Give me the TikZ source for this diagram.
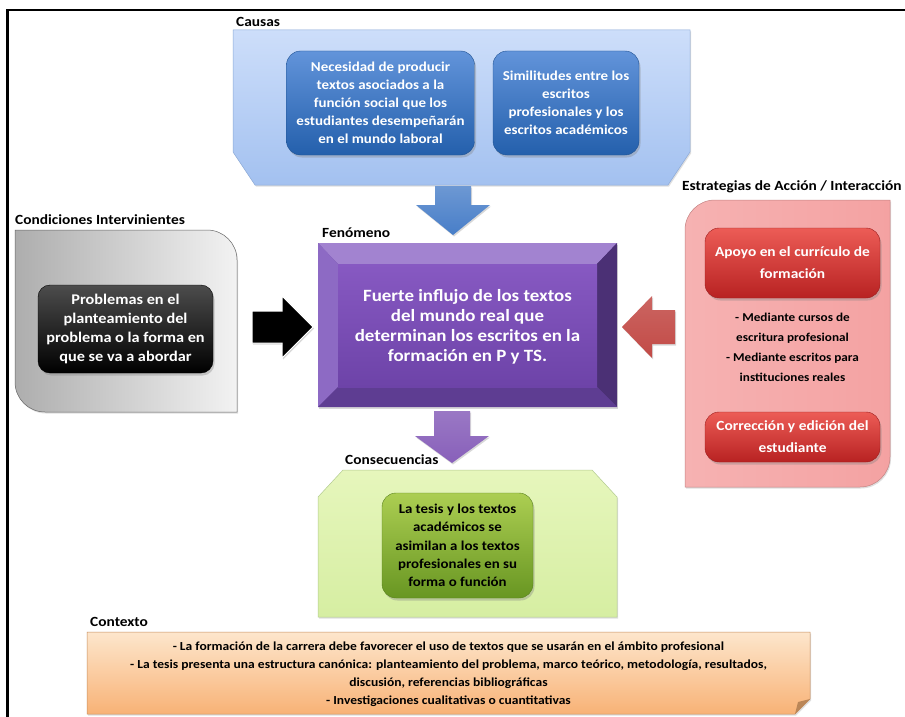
\documentclass[tikz,border=0pt]{standalone}
\usepackage{fontspec}
\setmainfont{Carlito}[FakeStretch=1.1]
\usetikzlibrary{shadows}
\definecolor{bluetop}{RGB}{98,148,218}
\definecolor{bluebot}{RGB}{36,96,172}
\definecolor{cauTop}{RGB}{205,222,250}
\definecolor{cauBot}{RGB}{163,193,240}
\definecolor{cauEdge}{RGB}{140,170,215}
\definecolor{redtop}{RGB}{236,92,86}
\definecolor{redbot}{RGB}{184,34,34}
\definecolor{pinkL}{RGB}{246,178,178}
\definecolor{pinkM}{RGB}{252,218,218}
\definecolor{pinkR}{RGB}{244,162,162}
\definecolor{greentop}{RGB}{172,206,82}
\definecolor{greenbot}{RGB}{104,150,34}
\definecolor{lgreen}{RGB}{230,246,188}
\definecolor{lgreen2}{RGB}{214,238,162}
\definecolor{orTop}{RGB}{253,230,204}
\definecolor{orBot}{RGB}{248,178,118}
\definecolor{purLight}{RGB}{162,131,208}
\definecolor{purLeft}{RGB}{141,106,196}
\definecolor{purRight}{RGB}{75,48,117}
\definecolor{purBot}{RGB}{94,61,146}
\definecolor{purTop}{RGB}{135,89,194}
\definecolor{purFaceBot}{RGB}{109,67,168}
\definecolor{arrBlue}{RGB}{72,126,200}
\definecolor{arrPur}{RGB}{136,96,186}
\definecolor{arrRed}{RGB}{194,74,70}
\begin{document}
\begin{tikzpicture}[x=1pt,y=-1pt,
  lbl/.style={anchor=west,inner sep=0pt,font=\fontsize{14}{16}\selectfont\bfseries},
  inbox/.style={align=center,inner sep=0pt,rounded corners=14pt,
    drop shadow={opacity=0.35,shadow xshift=1.5pt,shadow yshift=-2.5pt}},
  bluebox/.style={inbox,top color=bluetop,bottom color=bluebot,draw=bluebot!85!black,line width=0.4pt,
    text=white,font=\fontsize{13.6}{18}\selectfont\bfseries},
  blackbox/.style={inbox,rounded corners=12pt,top color=black!70,bottom color=black,draw=black,
    text=white,font=\fontsize{14.8}{19}\selectfont\bfseries},
  redbox/.style={inbox,top color=redtop,bottom color=redbot,draw=redbot!85!black,line width=0.4pt,
    text=white,font=\fontsize{14}{22}\selectfont\bfseries},
  greenbox/.style={inbox,top color=greentop,bottom color=greenbot,draw=greenbot!85!black,line width=0.4pt,
    text=black,font=\fontsize{13.5}{18.2}\selectfont\bfseries},
  plaintext/.style={align=center,inner sep=0pt,text=black},
  container/.style={line width=0.5pt,drop shadow={opacity=0.25,shadow xshift=1pt,shadow yshift=-1.5pt}},
  blockarrow/.style={drop shadow={opacity=0.3,shadow xshift=1pt,shadow yshift=-1.5pt}}
]
\useasboundingbox (0,0) rectangle (905,717);
\fill[white] (0,0) rectangle (905,717);
% outer frame
\draw[line width=2.6pt] (7.5,720) -- (7.5,10) -- (910,10);

% ---------------- Causas ----------------
\node[lbl] (lcausas) at (236,22) {Causas};
\shade[container,top color=cauTop,bottom color=cauBot,draw=cauEdge]
  (233,30) -- (690,30) -- (690,152) -- (668,185) -- (255,185) -- (233,152) -- cycle;
\node[bluebox,minimum width=188pt,minimum height=104pt] (c1) at (380.5,103)
  {Necesidad de producir\\textos asociados a la\\función social que los\\estudiantes desempeñarán\\en el mundo laboral};
\node[bluebox,minimum width=146pt,minimum height=104pt] (c2) at (566,103)
  {Similitudes entre los\\escritos\\profesionales y los\\escritos académicos};

% arrow causas -> fenomeno
\shade[blockarrow,top color=arrBlue!80!white,bottom color=arrBlue]
  (435,186) -- (471,186) -- (471,205) -- (490,205) -- (453,235) -- (416,205) -- (435,205) -- cycle;

% ---------------- Fenomeno ----------------
\node[lbl] (lfen) at (322,233) {Fenómeno};
\fill[blockarrow,purBot] (318,243) rectangle (617,407);
\fill[purLight] (318,243) -- (617,243) -- (597,264) -- (338,264) -- cycle;
\fill[purLeft] (318,243) -- (338,264) -- (338,387) -- (318,407) -- cycle;
\fill[purRight] (617,243) -- (617,407) -- (597,387) -- (597,264) -- cycle;
\fill[purBot] (318,407) -- (617,407) -- (597,387) -- (338,387) -- cycle;
\shade[top color=purTop,bottom color=purFaceBot] (338,264) rectangle (597,387);
\node[plaintext,text=white,font=\fontsize{17.2}{20}\selectfont\bfseries] (fen) at (467.5,327)
  {Fuerte influjo de los textos\\del mundo real que\\determinan los escritos en la\\formación en P y TS.};

% arrow fenomeno -> consecuencias
\shade[blockarrow,top color=arrPur!85!white,bottom color=arrPur]
  (434,411) -- (470,411) -- (470,436) -- (489,436) -- (452,463) -- (415,436) -- (434,436) -- cycle;

% ---------------- Condiciones ----------------
\node[lbl] (lcond) at (15,220) {Condiciones Intervinientes};
\shade[container,left color=black!32,right color=black!5,draw=black!60]
  (15,230) -- (207,230) .. controls (223.6,230) and (237,243.4) .. (237,260) -- (237,412)
  -- (45,412) .. controls (28.4,412) and (15,398.6) .. (15,382) -- cycle;
\node[blackbox,minimum width=175pt,minimum height=88pt] (p1) at (125.5,329)
  {Problemas en el\\planteamiento del\\problema o la forma en\\que se va a abordar};

% black arrow
\fill[blockarrow,black,draw=white,line width=1pt]
  (252,311) -- (282,311) -- (282,296) -- (313,327) -- (282,358) -- (282,343) -- (252,343) -- cycle;

% ---------------- Estrategias ----------------
\node[lbl] (lestr) at (682,187) {Estrategias de Acción / Interacción};
\shade[container,left color=pinkL,middle color=pinkM,right color=pinkR,draw=pinkR!80!black]
  (685,230) .. controls (685,213.4) and (698.4,200) .. (715,200) -- (890,200) -- (890,457)
  .. controls (890,473.6) and (876.6,487) .. (860,487) -- (685,487) -- cycle;
\node[redbox,minimum width=175pt,minimum height=70pt] (e1) at (792.5,263)
  {Apoyo en el currículo de\\formación};
\node[plaintext,font=\fontsize{12}{20}\selectfont\bfseries] (emid) at (792.5,347)
  {- Mediante cursos de\\escritura profesional\\- Mediante escritos para\\instituciones reales};
\node[redbox,minimum width=175pt,minimum height=50pt] (e2) at (792.5,437)
  {Corrección y edición del\\estudiante};

% red arrow
\shade[blockarrow,top color=arrRed!85!white,bottom color=arrRed]
  (675,310) -- (652,310) -- (652,296) -- (622,327) -- (652,358) -- (652,344) -- (675,344) -- cycle;

% ---------------- Consecuencias ----------------
\node[lbl] (lcons) at (345,460) {Consecuencias};
\shade[container,top color=lgreen,bottom color=lgreen2,draw=greenbot!50]
  (318,497) -- (343,470) -- (592,470) -- (617,497) -- (617,617) -- (318,617) -- cycle;
\node[greenbox,minimum width=151pt,minimum height=105pt] (g1) at (457.5,545.5)
  {La tesis y los textos\\académicos se\\asimilan a los textos\\profesionales en su\\forma o función};

% ---------------- Contexto ----------------
\node[lbl] (lctx) at (90,622) {Contexto};
\shade[container,top color=orTop,bottom color=orBot,draw=orBot!80!black]
  (87,632) -- (810,632) -- (810,699) -- (795,714) -- (87,714) -- cycle;
\fill[orBot!75!black] (810,699) -- (795,714) -- (798,702) -- cycle;
\node[plaintext,font=\fontsize{12.3}{18}\selectfont\bfseries] (ctx) at (448.5,674)
  {- La formación de la carrera debe favorecer el uso de textos que se usarán en el ámbito profesional\\
   - La tesis presenta una estructura canónica: planteamiento del problema, marco teórico, metodología, resultados,\\
   discusión, referencias bibliográficas\\
   - Investigaciones cualitativas o cuantitativas};
\end{tikzpicture}
\end{document}
